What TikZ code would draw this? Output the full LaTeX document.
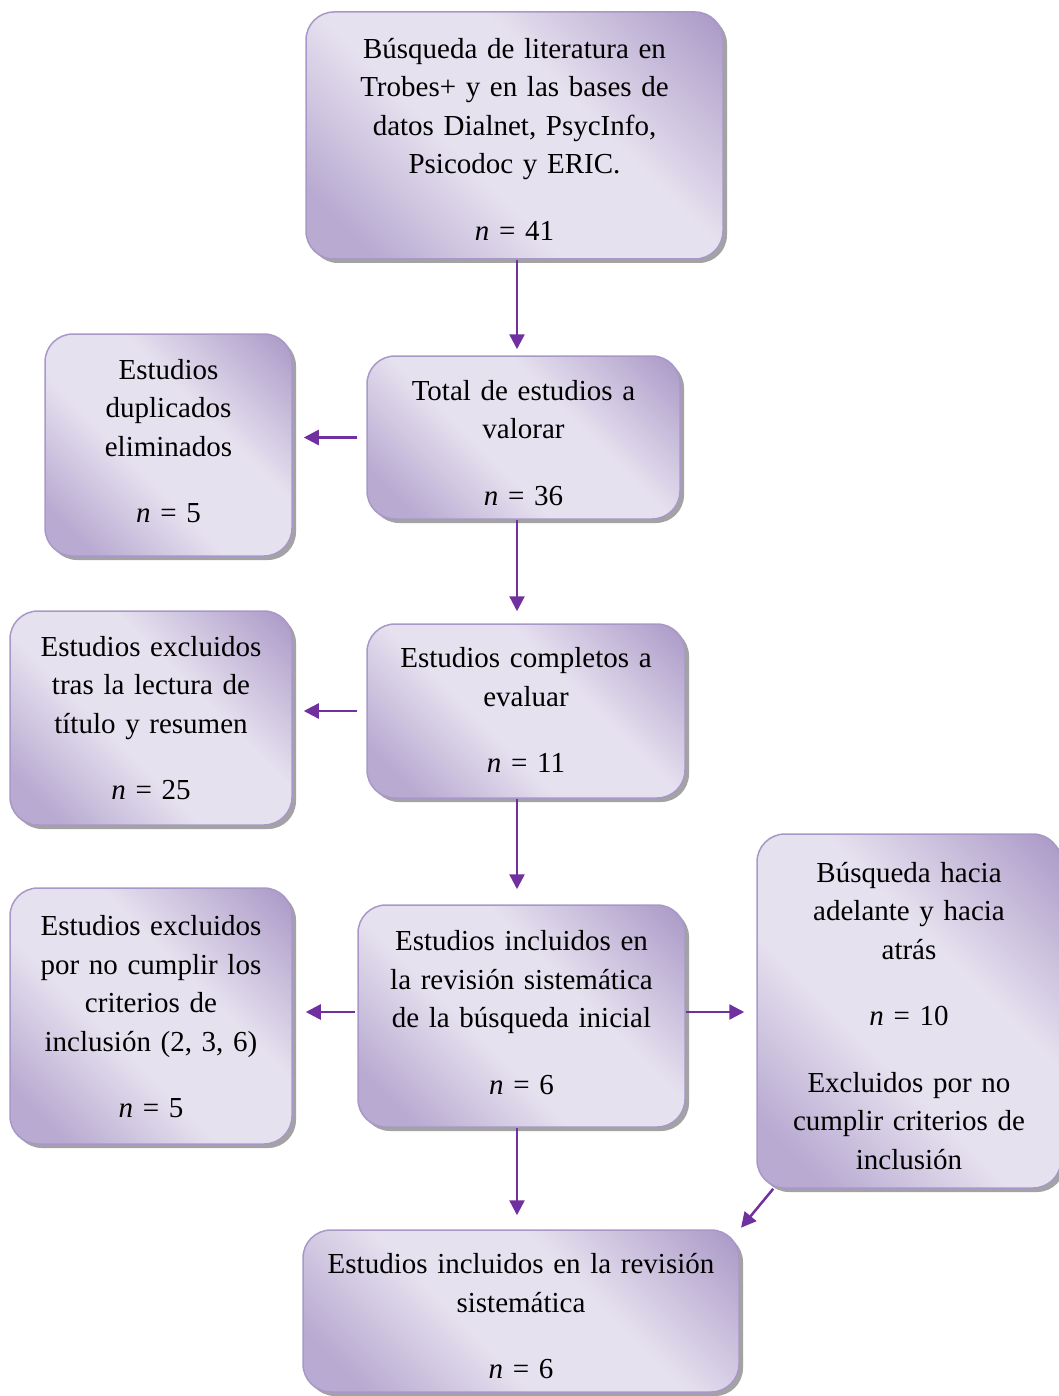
\documentclass[tikz,border=0pt]{standalone}
\usepackage{fontspec}
\setmainfont{Liberation Serif}
\usepackage{tikz}
\usetikzlibrary{arrows.meta,shadows}

\definecolor{oscuro}{RGB}{172,155,200}
\definecolor{medio}{RGB}{184,170,209}
\definecolor{claro}{RGB}{230,225,239}
\definecolor{borde}{RGB}{168,152,200}
\definecolor{morado}{RGB}{112,48,160}

\pgfdeclareverticalshading{malva}{100bp}{color(0bp)=(medio); color(22bp)=(medio); color(42bp)=(claro);
	color(60bp)=(claro); color(84bp)=(oscuro); color(100bp)=(oscuro)}

\begin{document}
\begin{tikzpicture}[x=1pt,y=-1pt,
	caja/.style={draw=borde,line width=1.5pt,rounded corners=28pt,inner sep=0pt,align=center,
		shade,shading=malva,shading angle=-45,
		drop shadow={shadow xshift=4pt,shadow yshift=-4pt,fill=black!45,opacity=.8},
		font=\fontsize{29}{38.5}\selectfont},
	flecha/.style={-{Triangle[length=15pt,width=15pt]},line width=2.5pt,draw=morado}]
	\useasboundingbox (0,0) rectangle (1059,1396);
	\coordinate (eje) at (517,0);
	
	\node[caja,text width=417pt,minimum height=247pt,text height=27.8pt] (busq) at (514.5,135.5)
		{Búsqueda de literatura en\\Trobes+ y en las bases de\\datos Dialnet, PsycInfo,\\Psicodoc y ERIC.\\[28pt]\textit{n} = 41};
	\node[caja,text width=313pt,minimum height=163pt,text height=30.8pt] (total) at (523.5,437.5)
		{Total de estudios a\\valorar\\[28pt]\textit{n} = 36};
	\node[caja,text width=247pt,minimum height=222pt,text height=11.8pt] (dupl) at (168.5,445)
		{Estudios\\duplicados\\eliminados\\[28pt]\textit{n} = 5};
	\node[caja,text width=318pt,minimum height=174pt,text height=18.8pt] (compl) at (526,711)
		{Estudios completos a\\evaluar\\[28pt]\textit{n} = 11};
	\node[caja,text width=282pt,minimum height=214pt,text height=19.8pt] (excl1) at (151,718)
		{Estudios excluidos\\tras la lectura de\\título y resumen\\[28pt]\textit{n} = 25};
	\node[caja,text width=327pt,minimum height=222pt,text height=12.8pt] (incl) at (521.5,1016)
		{Estudios incluidos en\\la revisión sistemática\\de la búsqueda inicial\\[28pt]\textit{n} = 6};
	\node[caja,text width=282pt,minimum height=256pt,text height=21.8pt] (excl2) at (151,1016)
		{Estudios excluidos\\por no cumplir los\\criterios de\\inclusión (2, 3, 6)\\[28pt]\textit{n} = 5};
	\node[caja,text width=304pt,minimum height=354pt,text height=29.8pt] (atras) at (909,1011)
		{Búsqueda hacia\\adelante y hacia\\atrás\\[28pt]\textit{n} = 10\\[28pt]Excluidos por no\\cumplir criterios de\\inclusión};
	\node[caja,text width=436pt,minimum height=162pt,text height=30.8pt] (final) at (521,1311)
		{Estudios incluidos en la revisión\\sistemática\\[28pt]\textit{n} = 6};
	
	% flechas
	\draw[flecha,shorten >=6pt] (busq.south -| eje) -- (total.north -| eje);
	\draw[flecha,shorten <=9pt,shorten >=11pt] (total.west) -- (dupl.east |- total.west);
	\draw[flecha,shorten >=12pt] (total.south -| eje) -- (compl.north -| eje);
	\draw[flecha,shorten <=9pt,shorten >=11pt] (compl.west) -- (excl1.east |- compl.west);
	\draw[flecha,shorten >=15pt] (compl.south -| eje) -- (incl.north -| eje);
	\draw[flecha,shorten <=2pt,shorten >=13pt] ([yshift=4pt]incl.west) -- ([yshift=4pt]excl2.east |- incl.west);
	\draw[flecha,shorten >=12pt] ([yshift=4pt]incl.east) -- ([yshift=4pt]atras.west |- incl.east);
	\draw[flecha,shorten >=14pt] (incl.south -| eje) -- (final.north -| eje);
	\draw[flecha,shorten >=2pt] ([xshift=17pt]atras.south west) -- (final.north east);
\end{tikzpicture}
\end{document}
